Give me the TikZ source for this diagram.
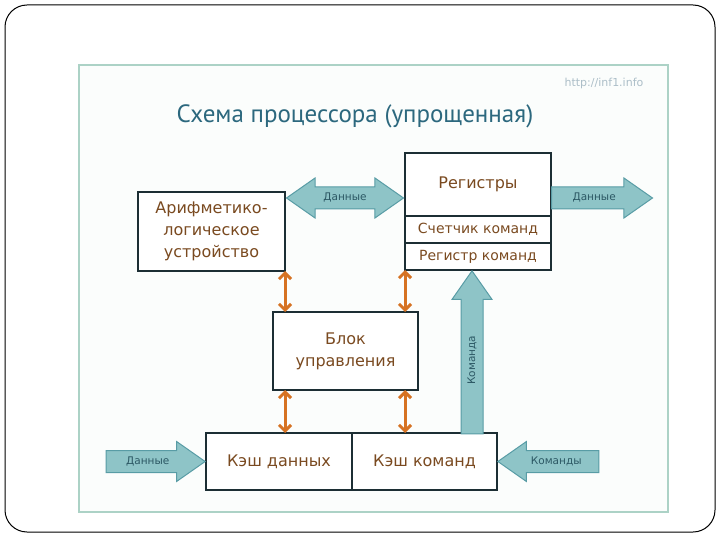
\documentclass[tikz,border=0pt]{standalone}
\usepackage{fontspec}
\setmainfont{DejaVu Sans}
\newfontfamily\titlefont{PT Sans}
\usetikzlibrary{arrows.meta,positioning,calc,shapes.arrows}
\definecolor{cpuframe}{RGB}{172,210,198}
\definecolor{cpupaper}{RGB}{251,253,252}
\definecolor{cpuline}{RGB}{28,46,52}
\definecolor{cpubrown}{RGB}{122,74,32}
\definecolor{cputeal}{RGB}{142,196,199}
\definecolor{cputealdark}{RGB}{88,156,165}
\definecolor{cpulabel}{RGB}{44,88,100}
\definecolor{cputitle}{RGB}{44,104,126}
\definecolor{cpuurl}{RGB}{172,190,200}
\definecolor{cpuorange}{RGB}{214,114,34}
\tikzset{
  cpubox/.style={draw=cpuline,fill=white,line width=2.2pt,inner sep=2pt,outer sep=0pt,
                 align=center,text=cpubrown,font=\fontsize{16}{22}\selectfont,minimum width=146pt},
  cpusmall/.style={cpubox,minimum height=27pt,font=\fontsize{14}{16}\selectfont},
  bigarrow/.style={single arrow,draw=cputealdark,fill=cputeal,line width=1pt,
                   single arrow head extend=9pt,single arrow tip angle=70,
                   inner xsep=2pt,inner ysep=0pt,text height=13.5pt,text depth=7.5pt,
                   text=cpulabel,font=\fontsize{10.5}{12}\selectfont},
  bigdarrow/.style={double arrow,draw=cputealdark,fill=cputeal,line width=1pt,
                    double arrow head extend=9pt,double arrow tip angle=70,
                    inner xsep=2pt,inner ysep=0pt,text height=13.5pt,text depth=7.5pt,
                    text=cpulabel,font=\fontsize{10.5}{12}\selectfont},
  ctrlarrow/.style={{Straight Barb[length=6pt,width=12pt]}-{Straight Barb[length=6pt,width=12pt]},
                    draw=cpuorange,line width=3pt},
}

\begin{document}
\begin{tikzpicture}[x=1pt,y=-1pt]
\useasboundingbox (0,0) rectangle (720,540);

% ============ slide and frame ============
\draw[line width=1pt,rounded corners=22pt] (5,5) rectangle (715,532);
\draw[draw=cpuframe,fill=cpupaper,line width=2.5pt] (79,65) rectangle (668,512);
\node[font=\fontsize{11}{13}\selectfont,text=cpuurl] (url) at (604,83) {http://inf1.info};
\node[font=\titlefont\fontsize{25}{29}\selectfont,text=cputitle] (title) at (355,116)
  {Схема процессора (упрощенная)};

% ============ blocks ============
\node[cpubox,minimum width=147pt,minimum height=79pt] (alu) at (211.5,231.5)
  {Арифметико-\\логическое\\устройство};
\node[cpubox,minimum height=63pt] (reg) at (478,184.5) {Регистры};
\node[cpusmall,below=0pt of reg] (pc) {Счетчик команд};
\node[cpusmall,below=0pt of pc] (ir) {Регистр команд};
\node[cpubox,minimum width=145pt,minimum height=78pt] (cu) at (345.5,351)
  {Блок\\управления};
\node[cpubox,minimum height=57pt] (dcache) at (279,461.5) {Кэш данных};
\node[cpubox,minimum width=145pt,minimum height=57pt,right=0pt of dcache] (icache) {Кэш команд};

% ============ data / command flows ============
\node[bigdarrow,minimum height=117pt] (aludata) at ([yshift=10pt]$(alu.east)!.5!(reg.west)$) {Данные};
\node[bigarrow,anchor=tail,minimum height=101pt] (regdata) at ([yshift=-13.5pt]reg.east) {Данные};
\node[bigarrow,anchor=tip,minimum height=99pt] (cachedata) at (dcache.west) {Данные};
\node[bigarrow,shape border rotate=180,anchor=tip,minimum height=101pt] (cacheins) at (icache.east) {Команды};
\node[bigarrow,rotate=90,anchor=tip,minimum height=163pt] (insup) at ([xshift=-6pt]ir.south) {Команда};

% ============ control lines ============
\draw[ctrlarrow] (alu.south east) -- (alu.south east |- cu.north);
\draw[ctrlarrow] (ir.south west) -- (ir.south west |- cu.north);
\draw[ctrlarrow] (cu.south -| alu.east) -- (alu.east |- dcache.north);
\draw[ctrlarrow] (cu.south -| ir.west) -- (ir.west |- icache.north);
\end{tikzpicture}
\end{document}
